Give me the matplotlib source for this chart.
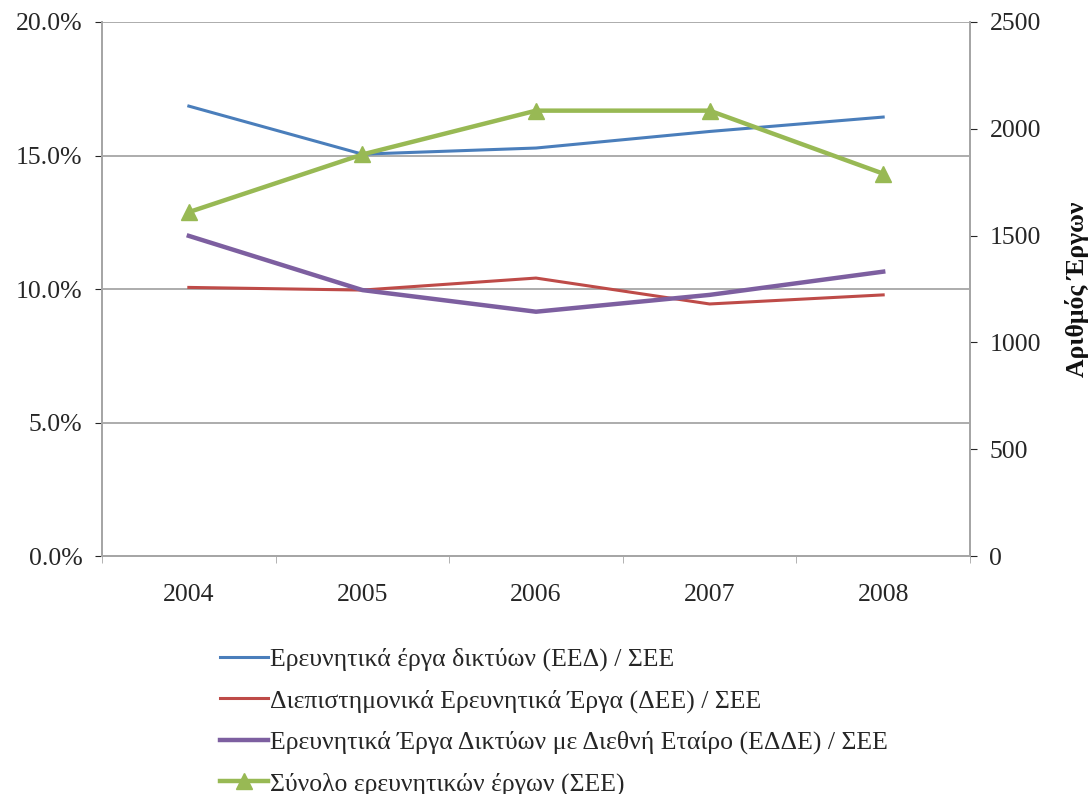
import matplotlib
matplotlib.use("Agg")
import matplotlib.pyplot as plt
from matplotlib.ticker import FuncFormatter

# δεδομένα
years = ["2004", "2005", "2006", "2007", "2008"]
eed = [16.85, 15.05, 15.28, 15.9, 16.44]      # % ΕΕΔ / ΣΕΕ
dee = [10.06, 9.96, 10.41, 9.44, 9.78]        # % ΔΕΕ / ΣΕΕ
edde = [11.99, 9.96, 9.15, 9.78, 10.65]       # % ΕΔΔΕ / ΣΕΕ
see = [1610, 1880, 2085, 2085, 1790]          # αριθμός έργων

labels = [
    "Ερευνητικά έργα δικτύων (ΕΕΔ) / ΣΕΕ",
    "Διεπιστημονικά Ερευνητικά Έργα (ΔΕΕ) / ΣΕΕ",
    "Ερευνητικά Έργα Δικτύων με Διεθνή Εταίρο (ΕΔΔΕ) / ΣΕΕ",
    "Σύνολο ερευνητικών έργων (ΣΕΕ)",
]

plt.rcParams['font.family'] = ['Liberation Serif', 'DejaVu Serif']
plt.rcParams['font.size'] = 18.5

fig = plt.figure(figsize=(10.89, 7.94), dpi=100)
ax = fig.add_axes([0.0937, 0.2997, 0.797, 0.6726])
ax2 = ax.twinx()

x = range(len(years))
grey = "#a6a6a6"
txt = "#262626"

l1, = ax.plot(x, eed, color="#4a7ebb", linewidth=2.2, zorder=3)
l2, = ax.plot(x, dee, color="#be4b48", linewidth=2.2, zorder=3)
l3, = ax.plot(x, edde, color="#7d5fa0", linewidth=3.2, zorder=3)
l4, = ax2.plot(x, see, color="#98b954", linewidth=3.2, marker="^",
               markersize=11, zorder=3)

ax.set_xlim(-0.5, len(years) - 0.5)
ax.set_ylim(0, 20)
ax.set_yticks([0, 5, 10, 15, 20])
ax.yaxis.set_major_formatter(FuncFormatter(lambda v, p: "%.1f%%" % v))
ax.set_xticks(list(x))
ax.set_xticklabels(years)
ax.set_xticks([i - 0.5 for i in range(len(years) + 1)], minor=True)
ax.tick_params(axis="x", which="major", length=0, pad=20)
ax.tick_params(axis="x", which="minor", length=5, color=grey)
ax.tick_params(axis="y", length=5, color=grey, pad=9)
ax.tick_params(colors=txt)
ax.grid(axis="y", color=grey, linewidth=1.3)
ax.set_axisbelow(True)

ax2.set_ylim(0, 2500)
ax2.set_yticks([0, 500, 1000, 1500, 2000, 2500])
ax2.tick_params(axis="y", length=5, color=grey, pad=9)
ax2.tick_params(colors=txt)
ax2.set_ylabel("Αριθμός Έργων", fontweight="bold", labelpad=17, color="#111111")

for a in (ax, ax2):
    for s in a.spines.values():
        s.set_color(grey)
        s.set_linewidth(1.3)
    a.spines["top"].set_visible(False)

fig.legend([l1, l2, l3, l4], labels, loc="upper left",
           bbox_to_anchor=(0.1927, 0.197), frameon=False,
           handlelength=1.85, handletextpad=0.1, labelspacing=0.7,
           borderaxespad=0, labelcolor=txt)

fig.savefig("out.png", dpi=100)
